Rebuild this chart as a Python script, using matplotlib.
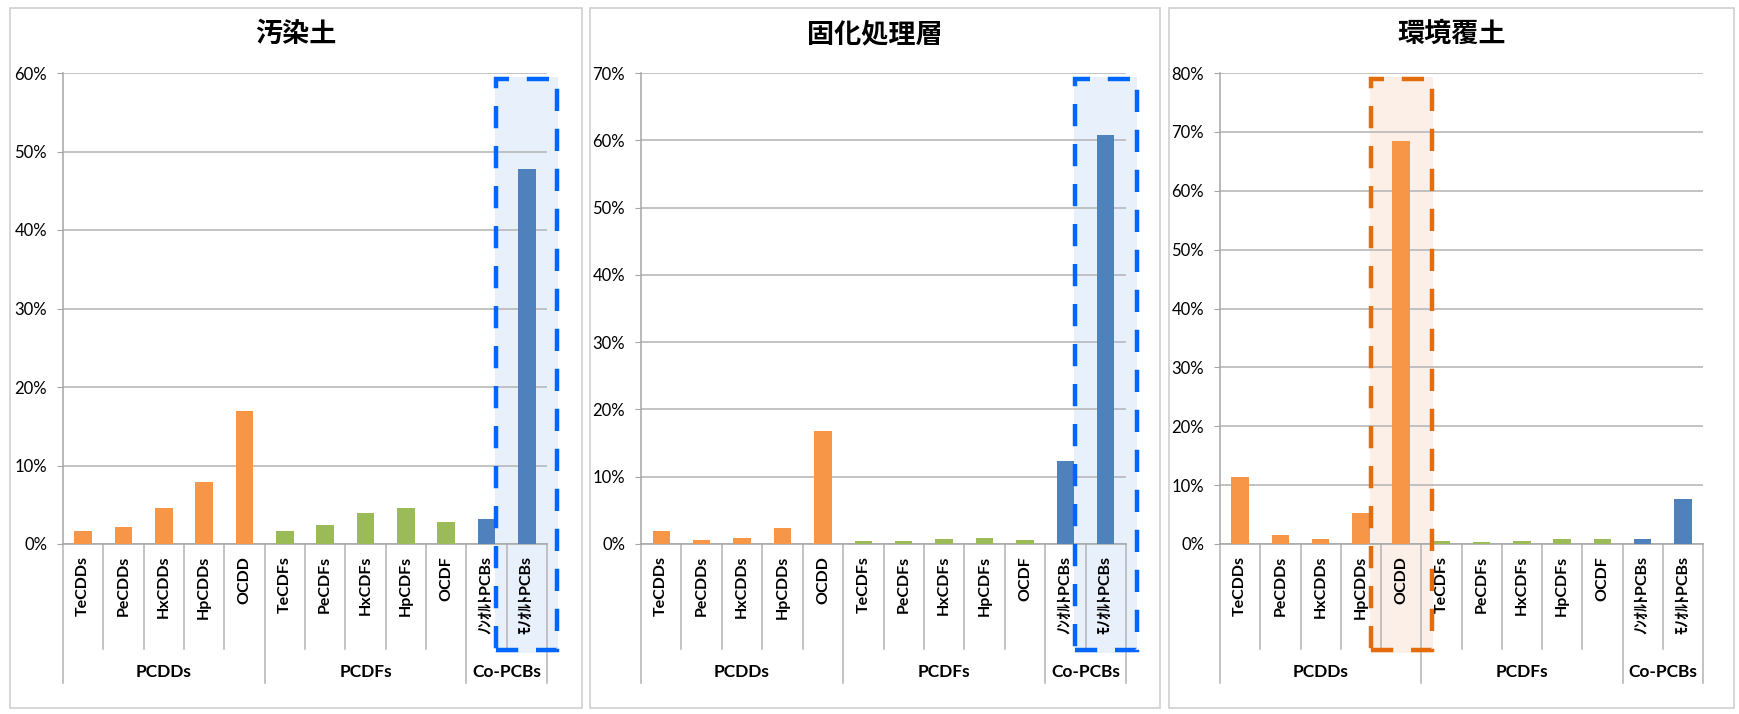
import numpy as np
import matplotlib
matplotlib.use("Agg")
import matplotlib.pyplot as plt
from matplotlib.patches import Rectangle
from matplotlib.ticker import MultipleLocator, FuncFormatter
import matplotlib.transforms as mtransforms

plt.rcParams['font.family'] = ['Lato', 'Noto Sans CJK JP', 'DejaVu Sans']

# 同族体別の割合 (%)
categories = ['TeCDDs', 'PeCDDs', 'HxCDDs', 'HpCDDs', 'OCDD',
              'TeCDFs', 'PeCDFs', 'HxCDFs', 'HpCDFs', 'OCDF',
              'ﾉﾝｵﾙﾄPCBs', 'ﾓﾉｵﾙﾄPCBs']
groups = ['PCDDs', 'PCDFs', 'Co-PCBs']
group_sizes = [5, 5, 2]

titles = ['汚染土', '固化処理層', '環境覆土']
osen_do = [1.6, 2.2, 4.6, 7.9, 16.9, 1.6, 2.4, 3.9, 4.6, 2.8, 3.2, 47.8]
koka_so = [2.0, 0.6, 0.95, 2.4, 16.8, 0.5, 0.5, 0.75, 0.95, 0.6, 12.4, 60.8]
kankyo_fukudo = [11.4, 1.55, 0.85, 5.3, 68.5, 0.55, 0.4, 0.55, 0.85, 0.85, 0.85, 7.7]
y_max = [60, 70, 80]
highlight = [11, 11, 4]   # 枠で囲むカテゴリ

group_colors = ['#F79646', '#9BBB59', '#4F81BD']
box_edge = {'blue': '#0066FF', 'orange': '#E46C0A'}
box_fill = {'blue': '#E6EFFC', 'orange': '#FBEEE5'}
box_kind = ['blue', 'blue', 'orange']

W, H = 1739, 714
fig = plt.figure(figsize=(W / 100, H / 100), dpi=100)

# パネル外枠とプロット領域 (ピクセル)
frames = [(10, 582), (590, 1160), (1169, 1734)]
plot_x = [(63, 547), (641, 1126), (1220, 1703)]
plot_top, plot_bottom = 73, 544

def fx(px):
    return px / W

def fy(py):
    return 1 - py / H

bar_colors = []
for c, n in zip(group_colors, group_sizes):
    bar_colors += [c] * n

for i, values in enumerate([osen_do, koka_so, kankyo_fukudo]):
    l, r = frames[i]
    fig.patches.append(Rectangle((fx(l), fy(708)), fx(r - l), (708 - 8) / H,
                                 transform=fig.transFigure, fill=False,
                                 edgecolor='#D0D0D0', linewidth=1.2))
    fig.text(fx((l + r) / 2), fy(34), titles[i], ha='center', va='center',
             fontsize=19.5, fontweight='bold', family=['Noto Sans CJK JP'])

    x0, x1 = plot_x[i]
    ax = fig.add_axes([fx(x0), fy(plot_bottom), fx(x1 - x0),
                       (plot_bottom - plot_top) / H])
    x = np.arange(len(categories))
    ax.bar(x, values, width=0.43, color=bar_colors, zorder=3)

    ax.set_xlim(-0.5, len(categories) - 0.5)
    ax.set_ylim(0, y_max[i])
    ax.yaxis.set_major_locator(MultipleLocator(10))
    ax.yaxis.set_major_formatter(FuncFormatter(lambda v, p: f'{v:.0f}%'))
    ax.grid(axis='y', color='#B3B3B3', linewidth=1.1, zorder=1)
    ax.set_axisbelow(True)
    for s in ['top', 'right']:
        ax.spines[s].set_visible(False)
    for s in ['left', 'bottom']:
        ax.spines[s].set_color('#A6A6A6')
        ax.spines[s].set_linewidth(1.1)
    ax.tick_params(axis='y', length=4.5, color='#A6A6A6', pad=7, labelsize=12)
    ax.tick_params(axis='x', length=0, labelbottom=False)

    trans = mtransforms.blended_transform_factory(ax.transData, ax.transAxes)
    # カテゴリ名
    for k, name in enumerate(categories):
        ax.text(k, -0.025, name, transform=trans, rotation=90, ha='center',
                va='top', fontsize=11.5, fontweight='bold')
    # 区切り線
    bounds = np.cumsum([0] + group_sizes) - 0.5
    for k in range(1, len(categories)):
        if k - 0.5 in bounds:
            continue
        ax.plot([k - 0.5, k - 0.5], [0, -0.223], transform=trans,
                color='#B3B3B3', linewidth=1.1, clip_on=False)
    for b in bounds:
        ax.plot([b, b], [0, -0.295], transform=trans, color='#B3B3B3',
                linewidth=1.1, clip_on=False)
    for g, name in enumerate(groups):
        ax.text((bounds[g] + bounds[g + 1]) / 2, -0.272, name, transform=trans,
                ha='center', va='center', fontsize=12.5, fontweight='bold')

    # 着目カテゴリの枠
    h = highlight[i]
    kind = box_kind[i]
    ax.add_patch(Rectangle((h - 0.78, -0.231), 1.56, 1.2225, transform=trans,
                           facecolor=box_fill[kind], edgecolor='none',
                           alpha=0.9, zorder=0.5, clip_on=False))
    ax.add_patch(Rectangle((h - 0.76, -0.226), 1.52, 1.213, transform=trans,
                           fill=False, edgecolor=box_edge[kind], linewidth=3.2,
                           linestyle=(0, (5, 4)), joinstyle='miter',
                           zorder=5, clip_on=False))

fig.savefig('out.png', dpi=100)
